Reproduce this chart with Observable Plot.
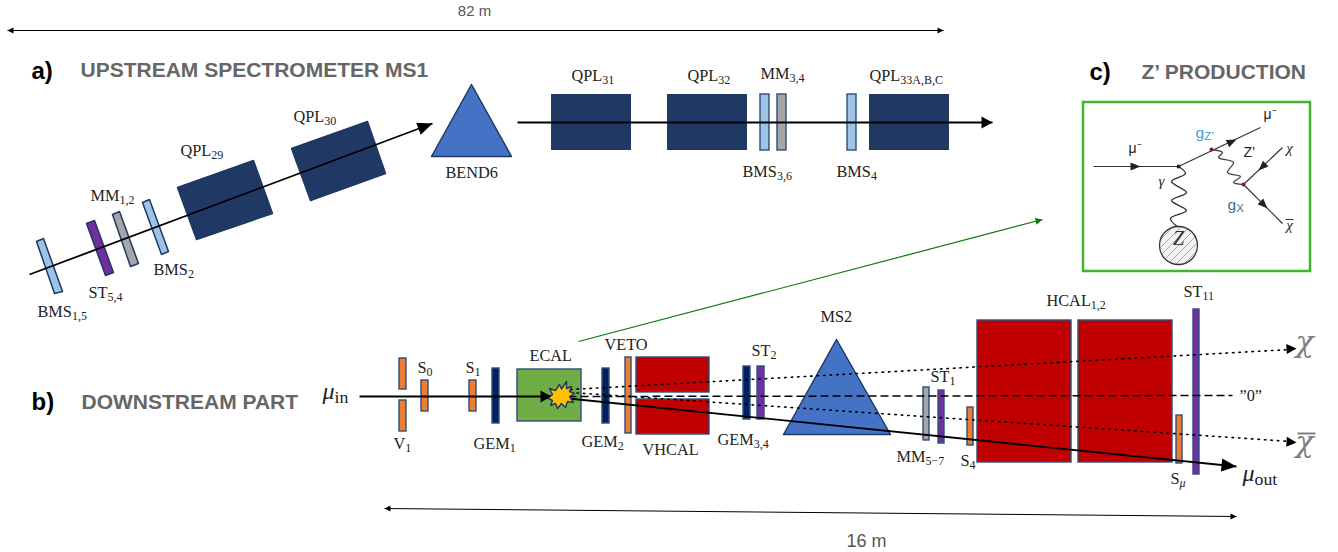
<!DOCTYPE html>
<html><head><meta charset="utf-8">
<style>html,body{margin:0;padding:0;background:#fff}svg{display:block}</style>
<script src="https://cdn.jsdelivr.net/npm/d3@7"></script>
<script src="https://cdn.jsdelivr.net/npm/@observablehq/plot@0.6"></script>
</head><body><div id="chart"></div>
<script>
const kinds = ["quad","bms","straw","mm","scint","gem","hcal","ecal","bend"];
const kindColors = ["#1f3864","#9dc3e6","#7030a0","#a6a6a6","#ed7d31","#002060","#c00000","#70ad47","#4472c4"];

const quadBlocks = [
  {kind:"quad",x1:551,x2:631,y1:94,y2:150},{kind:"quad",x1:667,x2:747,y1:94,y2:150},
  {kind:"quad",x1:869,x2:949,y1:94,y2:150}
];
const uprightBlocks = [
  {kind:"bms",x1:760,x2:769,y1:94,y2:150},{kind:"mm",x1:777,x2:786,y1:94,y2:150},
  {kind:"bms",x1:847,x2:856,y1:94,y2:150},
  {kind:"scint",x1:399,x2:406,y1:358,y2:389},{kind:"scint",x1:399,x2:406,y1:400,y2:431},
  {kind:"scint",x1:421,x2:428,y1:380,y2:411},{kind:"scint",x1:469,x2:476,y1:380,y2:411},
  {kind:"gem",x1:492,x2:499,y1:368,y2:423},{kind:"ecal",x1:517,x2:581,y1:369,y2:421},
  {kind:"gem",x1:602,x2:609,y1:368,y2:423},{kind:"scint",x1:625,x2:631,y1:357,y2:433},
  {kind:"hcal",x1:636,x2:709,y1:357,y2:392},{kind:"hcal",x1:636,x2:709,y1:399,y2:434},
  {kind:"gem",x1:743,x2:750,y1:366,y2:419},{kind:"straw",x1:757,x2:764,y1:366,y2:419},
  {kind:"mm",x1:923,x2:929,y1:387,y2:440},{kind:"straw",x1:938,x2:944,y1:390,y2:443},
  {kind:"scint",x1:967,x2:973,y1:407,y2:445},{kind:"hcal",x1:977,x2:1071,y1:320,y2:462},
  {kind:"hcal",x1:1078,x2:1172,y1:320,y2:462},{kind:"scint",x1:1176,x2:1182,y1:415,y2:463},
  {kind:"straw",x1:1193,x2:1199,y1:309,y2:474}
];
const tiltedBlocks = [
  {name:"QPL29",kind:"quad",pts:[[177,187],[253,160],[272,213],[196,239]]},
  {name:"QPL30",kind:"quad",pts:[[291,148],[367,121],[385,173],[310,200]]},
  {name:"BMS15",kind:"bms",pts:[[36,241],[43,238],[62,291],[54,293]]},
  {name:"ST54",kind:"straw",pts:[[86,223],[94,220],[113,272],[105,275]]},
  {name:"MM12",kind:"mm",pts:[[112,214],[119,211],[138,263],[130,266]]},
  {name:"BMS2",kind:"bms",pts:[[142,202],[149,199],[168,251],[161,254]]},
  {name:"BEND6",kind:"bend",pts:[[471,84],[431,156],[511,156]]},
  {name:"MS2",kind:"bend",pts:[[836,339],[783,434],[890,434]]}
];
const burst = [[559,384],[561,388.5],[566,381],[566,388],[571,386],[569,391],[574,393],[569,396],[573,402],[567,401],[565,407],[561,403],[557,408],[555,403],[550,405],[552,400],[546,397],[552,394],[549,388],[555,390]];

const solidBeams = [
  {x1:29,y1:274,x2:432,y2:123},{x1:517,y1:122,x2:992,y2:122},
  {x1:359,y1:396,x2:551,y2:396},{x1:568,y1:398,x2:1236,y2:466}
];
const dottedBeams = [{x1:570,y1:389,x2:1290,y2:349},{x1:570,y1:392,x2:1290,y2:441}];
const dashedBeam = [{x1:568,y1:396,x2:1232,y2:395}];
const spans = [{x1:7,y1:30,x2:943,y2:30},{x1:384,y1:508,x2:1236,y2:516}];
const pointerArrow = [{x1:578,y1:341,x2:1042,y2:219}];
const heads = [
  {tx:432,ty:123,fx:29,fy:274,len:15,half:6.5},{tx:992,ty:122,fx:517,fy:122,len:11,half:6},
  {tx:551,ty:396,fx:359,fy:396,len:11,half:6},{tx:1236,ty:466,fx:568,fy:398,len:15,half:6.5},
  {tx:1296,ty:348,fx:570,fy:389,len:10,half:5},{tx:1296,ty:442,fx:570,fy:392,len:10,half:5},
  {tx:7,ty:30,fx:943,fy:30,len:6,half:3},{tx:943,ty:30,fx:7,fy:30,len:6,half:3},
  {tx:384,ty:508,fx:1236,fy:516,len:6,half:3},{tx:1236,ty:516,fx:384,fy:508,len:6,half:3},
  {tx:1042,ty:219,fx:578,fy:341,len:7,half:3.5,color:"#0b7a0b"},
  {tx:1140,ty:166,fx:1093,fy:166,len:10,half:4,color:"#222"},
  {tx:1236,ty:139,fx:1178,fy:166,len:10,half:4,color:"#222"},
  {tx:1258,ty:170,fx:1282,fy:147,len:10,half:4,color:"#222"},
  {tx:1267,ty:208,fx:1243,fy:184,len:10,half:4,color:"#222"}
];
const feynLines = [
  {x1:1093,y1:166,x2:1178,y2:166},{x1:1178,y1:166,x2:1260,y2:127},
  {x1:1282,y1:147,x2:1243,y2:184},{x1:1243,y1:184,x2:1282,y2:223}
];
const gammaWave = [[1178,166],[1185,173],[1171,181],[1186,192],[1171,200],[1186,210],[1170,218],[1178,227]];
const zPrimeWave = [[1211,149],[1222,152],[1218,157],[1233,162],[1227,172],[1240,176],[1233,182],[1243,184]];
const vertices = [{x:1178,y:166,c:"#222"},{x:1211,y:149,c:"#7a1f2b"},{x:1243,y:184,c:"#7a1f2b"}];
const nucleus = [{x:1178,y:245}];
const hatch = [
  {x1:1165,y1:258,x2:1191,y2:232},{x1:1169,y1:262,x2:1195,y2:236},{x1:1161,y1:254,x2:1187,y2:228},
  {x1:1175,y1:264,x2:1197,y2:242},{x1:1159,y1:248,x2:1181,y2:226},{x1:1184,y1:263,x2:1196,y2:251},
  {x1:1160,y1:239,x2:1172,y2:227}
];
const feynBox = [{x1:1083,x2:1310,y1:102,y2:271}];
const macronsLarge = [{x1:1297,y1:433,x2:1315,y2:433}];
const macronsSmall = [{x1:1285,y1:219,x2:1293,y2:219}];

const serifLabels = [
  {t:"QPL_29",x:180,y:155},{t:"QPL_30",x:293,y:121},{t:"MM_1,2",x:90,y:200},{t:"BMS_2",x:153,y:274},
  {t:"ST_5,4",x:88,y:297},{t:"BMS_1,5",x:37,y:316},{t:"BEND6",x:445,y:177},{t:"QPL_31",x:571,y:80},
  {t:"QPL_32",x:687,y:80},{t:"MM_3,4",x:760,y:78},{t:"QPL_33A,B,C",x:869,y:80},{t:"BMS_3,6",x:742,y:176},
  {t:"BMS_4",x:836,y:176},{t:"ECAL",x:529,y:360},{t:"S_0",x:417,y:372},{t:"S_1",x:465,y:372},
  {t:"VETO",x:604,y:349},{t:"V_1",x:393,y:448},{t:"GEM_1",x:473,y:448},{t:"GEM_2",x:581,y:446},
  {t:"VHCAL",x:642,y:454},{t:"ST_2",x:751,y:355},{t:"GEM_3,4",x:717,y:444},{t:"MS2",x:820,y:321},
  {t:"MM_5−7",x:896,y:461},{t:"S_4",x:960,y:465},{t:"ST_1",x:930,y:381},{t:"HCAL_1,2",x:1046,y:305},
  {t:"ST_11",x:1183,y:296},{t:"S_μ",x:1170,y:483},{t:"”0”",x:1239,y:400}
];
const mathLabels = [{t:"μ_in",x:322,y:398},{t:"μ_out",x:1242,y:480}];
const darkMath = [{t:"χ",x:1295,y:351},{t:"χ",x:1295,y:451}];
const panelMarks = [{t:"a)",x:31,y:78},{t:"b)",x:31,y:409},{t:"c)",x:1089,y:79}];
const panelTitles = [{t:"UPSTREAM SPECTROMETER MS1",x:80,y:76},{t:"DOWNSTREAM PART",x:81,y:408},{t:"Z’ PRODUCTION",x:1141,y:78}];
const spanLabel82 = [{t:"82 m",x:474,y:15}];
const spanLabel16 = [{t:"16 m",x:866,y:546}];
const feynDark = [{t:"μ⁻",x:1128,y:152},{t:"μ⁻",x:1263,y:118},{t:"Z’",x:1243,y:156}];
const feynItalic = [{t:"χ",x:1289,y:152},{t:"γ",x:1161,y:185},{t:"χ",x:1289,y:229}];
const feynZ = [{t:"Z",x:1178,y:244}];
const gZ = [{t:"g_Z’",x:1195,y:137}];
const gX = [{t:"g_X",x:1227,y:209}];

const polyRows = list => list.flatMap(d => d.pts.map(([x,y]) => ({id:d.name,kind:d.kind,x,y})));
const headRows = list => list.flatMap((h,i) => {
  const dx=h.tx-h.fx, dy=h.ty-h.fy, n=Math.hypot(dx,dy), ux=dx/n, uy=dy/n;
  const bx=h.tx-ux*h.len, by=h.ty-uy*h.len;
  return [[h.tx,h.ty],[bx-uy*h.half,by+ux*h.half],[bx+uy*h.half,by-ux*h.half]]
    .map(([x,y]) => ({id:i,color:h.color||"#000",x,y}));
});
const pairs = a => a.map(([x,y]) => ({x,y}));
const serif = "'Liberation Serif', serif";
const sans = "'Liberation Sans', Arial, sans-serif";
const txt = (data,o) => Plot.text(data,{x:"x",y:"y",text:"t",textAnchor:"start",lineAnchor:"bottom",...o});
const seg = (data,o) => Plot.link(data,{x1:"x1",y1:"y1",x2:"x2",y2:"y2",...o});
const box = {x1:"x1",x2:"x2",y1:"y1",y2:"y2"};

const chart = Plot.plot({
  width:1338,height:552,margin:0,
  x:{domain:[0,1338],range:[0,1338],axis:null},
  y:{domain:[0,552],range:[0,552],axis:null},
  color:{type:"ordinal",domain:kinds,range:kindColors},
  style:{background:"#fff"},
  marks:[
    Plot.rect(quadBlocks,{...box,fill:"kind"}),
    Plot.rect(uprightBlocks,{...box,fill:"kind",stroke:"#2f4d7a",strokeWidth:1.4}),
    Plot.line(polyRows(tiltedBlocks),{x:"x",y:"y",z:"id",fill:"kind",stroke:"#1f3864",strokeWidth:1.5,curve:"linear-closed"}),
    seg(dashedBeam,{stroke:"#000",strokeWidth:1.5,strokeDasharray:"8 4"}),
    seg(dottedBeams,{stroke:"#000",strokeWidth:1.6,strokeDasharray:"1.5 5",strokeLinecap:"round"}),
    seg(solidBeams,{stroke:"#000",strokeWidth:1.8}),
    seg(spans,{stroke:"#000",strokeWidth:1}),
    seg(pointerArrow,{stroke:"#0b7a0b",strokeWidth:1.2}),
    Plot.line(pairs(burst),{x:"x",y:"y",fill:"#ffc000",stroke:"#1f3864",strokeWidth:1.4,curve:"linear-closed"}),
    Plot.rect(feynBox,{...box,fill:"none",stroke:"#3fb52a",strokeWidth:2.5}),
    seg(feynLines,{stroke:"#333",strokeWidth:1.2}),
    Plot.line(pairs(gammaWave),{x:"x",y:"y",stroke:"#333",strokeWidth:1.4,curve:"catmull-rom"}),
    Plot.line(pairs(zPrimeWave),{x:"x",y:"y",stroke:"#444",strokeWidth:1.3,curve:"catmull-rom"}),
    Plot.dot(nucleus,{x:"x",y:"y",r:19,fill:"#f2f2f2",stroke:"none"}),
    seg(hatch,{stroke:"#aaa",strokeWidth:1}),
    Plot.dot(nucleus,{x:"x",y:"y",r:19,fill:"none",stroke:"#333",strokeWidth:1.3}),
    Plot.line(headRows(heads),{x:"x",y:"y",z:"id",fill:"color",stroke:"none",curve:"linear-closed"}),
    Plot.dot(vertices,{x:"x",y:"y",r:2,fill:"c",stroke:"none"}),
    seg(macronsLarge,{stroke:"#7f7f7f",strokeWidth:2}),
    seg(macronsSmall,{stroke:"#333",strokeWidth:1}),
    txt(serifLabels,{fontFamily:serif,fontSize:16.3,fill:"#222"}),
    txt(mathLabels,{fontFamily:serif,fontSize:24,fontStyle:"italic",fill:"#222"}),
    txt(darkMath,{fontFamily:"'DejaVu Serif', serif",fontSize:30,fontStyle:"italic",fill:"#7f7f7f"}),
    txt(panelMarks,{fontFamily:sans,fontWeight:"bold",fontSize:24,fill:"#000"}),
    txt(panelTitles,{fontFamily:sans,fontWeight:"bold",fontSize:21,fill:"#666"}),
    txt(spanLabel82,{fontFamily:sans,fontSize:15,fill:"#555",textAnchor:"middle"}),
    txt(spanLabel16,{fontFamily:sans,fontSize:18,fill:"#555",textAnchor:"middle"}),
    txt(feynDark,{fontFamily:sans,fontSize:14,fill:"#222"}),
    txt(feynItalic,{fontFamily:serif,fontSize:15,fontStyle:"italic",fill:"#222",textAnchor:"middle"}),
    txt(feynZ,{fontFamily:serif,fontSize:20,fontStyle:"italic",fill:"#333",textAnchor:"middle"}),
    txt(gZ,{fontFamily:sans,fontSize:15.5,fill:"#3aa0dc"}),
    txt(gX,{fontFamily:sans,fontSize:15.5,fill:"#2f6f9f"})
  ]
});

// Turn "NAME_sub" label strings into a real text with a subscript run.
const NS = "http://www.w3.org/2000/svg";
chart.querySelectorAll("text").forEach(el => {
  const s = el.textContent, i = s.indexOf("_");
  if (i < 0) return;
  el.textContent = "";
  const main = document.createElementNS(NS,"tspan");
  main.textContent = s.slice(0,i);
  const sub = document.createElementNS(NS,"tspan");
  sub.textContent = s.slice(i+1);
  sub.setAttribute("dy","0.25em");
  sub.setAttribute("font-size","74%");
  sub.setAttribute("font-style", sub.textContent === "μ" ? "italic" : "normal");
  el.append(main,sub);
});
document.getElementById("chart").append(chart);
</script></body></html>
